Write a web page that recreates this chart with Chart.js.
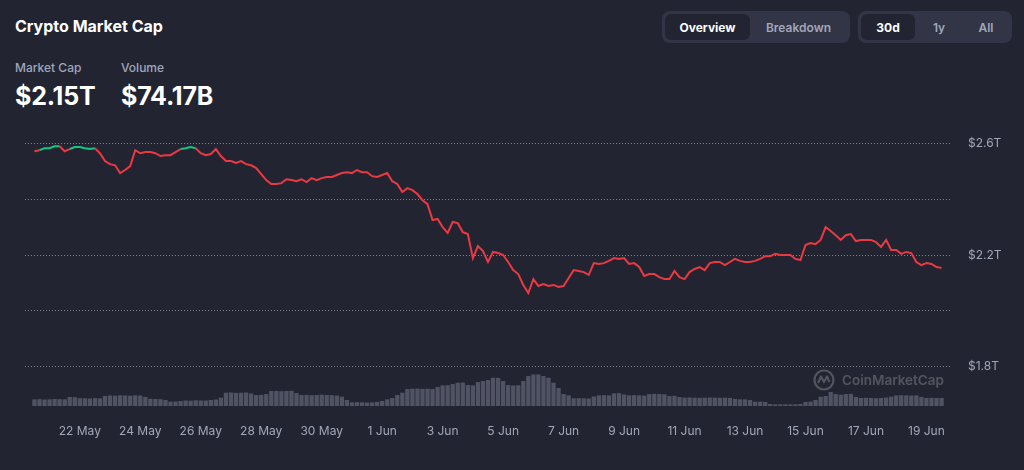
<!DOCTYPE html>
<html>
<head>
<meta charset="utf-8">
<script src="https://cdn.jsdelivr.net/npm/chart.js@4.4.1/dist/chart.umd.min.js"></script>
<style>
  html, body { margin: 0; padding: 0; width: 1024px; height: 470px; overflow: hidden;
    background: #222531; color: #fff; font-family: Inter, 'Noto Sans', sans-serif; }
  .title { position: absolute; left: 15px; top: 16px; font-size: 16px; font-weight: 700; }
  .stat { position: absolute; top: 60px; }
  .stat .lbl { font-size: 12px; font-weight: 500; color: #a1a7bb; }
  .stat .val { font-size: 25px; font-weight: 700; margin-top: 6px; letter-spacing: -0.2px; }
  .tabs { position: absolute; top: 11px; height: 32px; box-sizing: border-box; padding: 3px;
    background: #323546; border-radius: 8px; display: flex; }
  .tab { font-size: 12px; font-weight: 600; color: #a1a7bb; display: flex;
    align-items: center; justify-content: center; border-radius: 6px; }
  .tab.on { background: #222531; color: #fff; font-weight: 700; }
  #wrap { position: absolute; left: 0; top: 125px; width: 1024px; height: 325px; }
  .wm { position: absolute; left: 813px; top: 369px; display: flex; align-items: center;
    color: rgba(255,255,255,0.22); font-size: 13.5px; font-weight: 600; }
  .wm svg { margin-right: 7px; }
</style>
</head>
<body>
<div class="title">Crypto Market Cap</div>
<div class="stat" style="left:15px"><div class="lbl">Market Cap</div><div class="val">$2.15T</div></div>
<div class="stat" style="left:121px"><div class="lbl">Volume</div><div class="val">$74.17B</div></div>

<div class="tabs" style="left:662px; width:188px">
  <div class="tab on" style="width:85px">Overview</div>
  <div class="tab" style="width:97px">Breakdown</div>
</div>
<div class="tabs" style="left:858px; width:154px">
  <div class="tab on" style="width:54px">30d</div>
  <div class="tab" style="width:48px">1y</div>
  <div class="tab" style="width:46px">All</div>
</div>

<div id="wrap"><canvas id="chart" width="1024" height="325"></canvas></div>

<div class="wm">
  <svg width="22" height="22" viewBox="0 0 22 22">
    <circle cx="11" cy="11" r="9.5" fill="none" stroke="rgba(255,255,255,0.22)" stroke-width="2.2"/>
    <path d="M5 14 L8 7.5 L11 13 L14 7.5 L16.5 13" fill="none" stroke="rgba(255,255,255,0.22)" stroke-width="2.2" stroke-linejoin="round"/>
  </svg>
  <span>CoinMarketCap</span>
</div>

<script>
// 4-hourly samples starting 20 May 2024 12:00 UTC
const startTime = Date.UTC(2024, 4, 20, 12);
const stepHours = 4;

// total market cap, trillions USD
const marketCap = [
  2.571, 2.575, 2.582, 2.582, 2.589, 2.589, 2.571, 2.579, 2.586, 2.586,
  2.582, 2.579, 2.582, 2.564, 2.536, 2.525, 2.521, 2.493, 2.504, 2.518,
  2.575, 2.564, 2.568, 2.568, 2.564, 2.554, 2.557, 2.557, 2.568, 2.579,
  2.582, 2.586, 2.582, 2.564, 2.557, 2.561, 2.579, 2.554, 2.536, 2.536,
  2.529, 2.536, 2.525, 2.521, 2.511, 2.489, 2.468, 2.454, 2.454, 2.457,
  2.471, 2.468, 2.464, 2.471, 2.461, 2.475, 2.468, 2.475, 2.479, 2.479,
  2.486, 2.493, 2.496, 2.493, 2.504, 2.496, 2.496, 2.482, 2.479, 2.486,
  2.493, 2.464, 2.454, 2.425, 2.439, 2.432, 2.418, 2.396, 2.382, 2.325,
  2.329, 2.300, 2.279, 2.318, 2.314, 2.282, 2.275, 2.189, 2.232, 2.214,
  2.175, 2.211, 2.207, 2.200, 2.175, 2.146, 2.132, 2.093, 2.064, 2.114,
  2.089, 2.096, 2.089, 2.093, 2.086, 2.089, 2.118, 2.146, 2.143, 2.139,
  2.129, 2.171, 2.168, 2.171, 2.179, 2.189, 2.186, 2.189, 2.168, 2.171,
  2.157, 2.125, 2.132, 2.132, 2.121, 2.114, 2.114, 2.143, 2.121, 2.114,
  2.139, 2.150, 2.157, 2.146, 2.171, 2.175, 2.175, 2.164, 2.175, 2.186,
  2.179, 2.175, 2.175, 2.179, 2.186, 2.196, 2.196, 2.204, 2.200, 2.200,
  2.200, 2.186, 2.182, 2.236, 2.243, 2.239, 2.254, 2.300, 2.286, 2.271,
  2.254, 2.271, 2.275, 2.250, 2.254, 2.254, 2.254, 2.246, 2.229, 2.254,
  2.218, 2.218, 2.204, 2.211, 2.207, 2.175, 2.164, 2.171, 2.168, 2.157,
  2.154
];

// volume per sample, billions USD
const volume = [
  40, 41, 39, 40, 42, 41, 40, 54, 53, 47,
  46, 45, 47, 46, 60, 63, 62, 64, 63, 62,
  64, 63, 54, 43, 42, 41, 36, 26, 27, 30,
  33, 32, 34, 33, 33, 36, 39, 50, 80, 81,
  79, 80, 81, 75, 66, 67, 72, 90, 91, 89,
  90, 91, 78, 66, 67, 65, 66, 68, 66, 65,
  63, 56, 36, 22, 23, 22, 21, 22, 24, 30,
  40, 48, 66, 80, 102, 104, 105, 103, 104, 102,
  114, 124, 125, 132, 140, 141, 126, 124, 144, 150,
  156, 170, 169, 150, 126, 124, 125, 150, 180, 190,
  190, 180, 170, 140, 108, 72, 64, 46, 47, 46,
  45, 57, 64, 65, 64, 76, 77, 69, 64, 65,
  64, 63, 72, 73, 72, 71, 60, 61, 54, 50,
  51, 50, 49, 50, 51, 50, 49, 50, 48, 42,
  40, 40, 36, 26, 26, 24, 12, 10, 10, 10,
  10, 10, 12, 24, 26, 36, 56, 60, 84, 72,
  68, 72, 73, 54, 48, 49, 48, 47, 48, 51,
  56, 64, 65, 64, 63, 64, 54, 48, 49, 48,
  48
];

const xTickLabels = ['22 May', '24 May', '26 May', '28 May', '30 May', '1 Jun', '3 Jun',
  '5 Jun', '7 Jun', '9 Jun', '11 Jun', '13 Jun', '15 Jun', '17 Jun', '19 Jun'];
const firstTickTime = Date.UTC(2024, 4, 22);

const yGridValues = [1.8, 2.0, 2.2, 2.4, 2.6];
const yTickLabels = { '1.8': '$1.8T', '2.2': '$2.2T', '2.6': '$2.6T' };

const HOUR = 3600 * 1000;
const DAY = 24 * HOUR;
const times = marketCap.map((_, i) => startTime + i * stepHours * HOUR);

const green = '#16c784';
const red = '#ea3943';
const baseline = marketCap[0];

Chart.defaults.font.family = "Inter, 'Noto Sans', sans-serif";
Chart.defaults.font.size = 12;
Chart.defaults.color = '#a1a7bb';

const ctx = document.getElementById('chart').getContext('2d');

new Chart(ctx, {
  type: 'line',
  data: {
    datasets: [
      {
        type: 'line',
        label: 'Market Cap',
        data: marketCap.map((v, i) => ({ x: times[i], y: v })),
        yAxisID: 'y',
        borderColor: red,
        borderWidth: 2,
        pointRadius: 0,
        tension: 0,
        segment: {
          borderColor: c => (c.p0.parsed.y > baseline && c.p1.parsed.y > baseline) ? green : red
        }
      },
      {
        type: 'bar',
        label: 'Volume',
        data: volume.map((v, i) => ({ x: times[i], y: v })),
        yAxisID: 'yVol',
        backgroundColor: 'rgba(125,130,150,0.5)',
        borderWidth: 0,
        barPercentage: 1,
        categoryPercentage: 0.85
      }
    ]
  },
  options: {
    responsive: false,
    animation: false,
    layout: { padding: { left: 25, right: 0, top: 0, bottom: 0 } },
    plugins: { legend: { display: false }, tooltip: { enabled: false } },
    scales: {
      x: {
        type: 'linear',
        offset: false,
        min: times[0] - 7.5 * HOUR,
        max: times[times.length - 1] + 7.5 * HOUR,
        grid: { display: false },
        border: { display: false },
        afterBuildTicks: s => {
          s.ticks = xTickLabels.map((_, k) => ({ value: firstTickTime + k * 2 * DAY }));
        },
        afterFit: s => { s.height = 44; s.paddingLeft = 0; s.paddingRight = 0; },
        ticks: {
          padding: 10,
          maxRotation: 0,
          autoSkip: false,
          callback: (v, idx) => xTickLabels[idx]
        }
      },
      y: {
        type: 'linear',
        position: 'right',
        min: 1.66,
        max: 2.665,
        afterBuildTicks: s => { s.ticks = yGridValues.map(v => ({ value: v })); },
        afterFit: s => { s.width = 73; s.paddingTop = 0; s.paddingBottom = 0; },
        grid: { color: 'rgba(205,210,225,0.55)', lineWidth: 1, drawTicks: false },
        border: { display: false, dash: [1, 2] },
        ticks: {
          padding: 17,
          callback: v => yTickLabels[v.toFixed(1)] || ''
        }
      },
      yVol: {
        type: 'linear',
        display: false,
        min: 0,
        max: 1690
      }
    }
  }
});
</script>
</body>
</html>
